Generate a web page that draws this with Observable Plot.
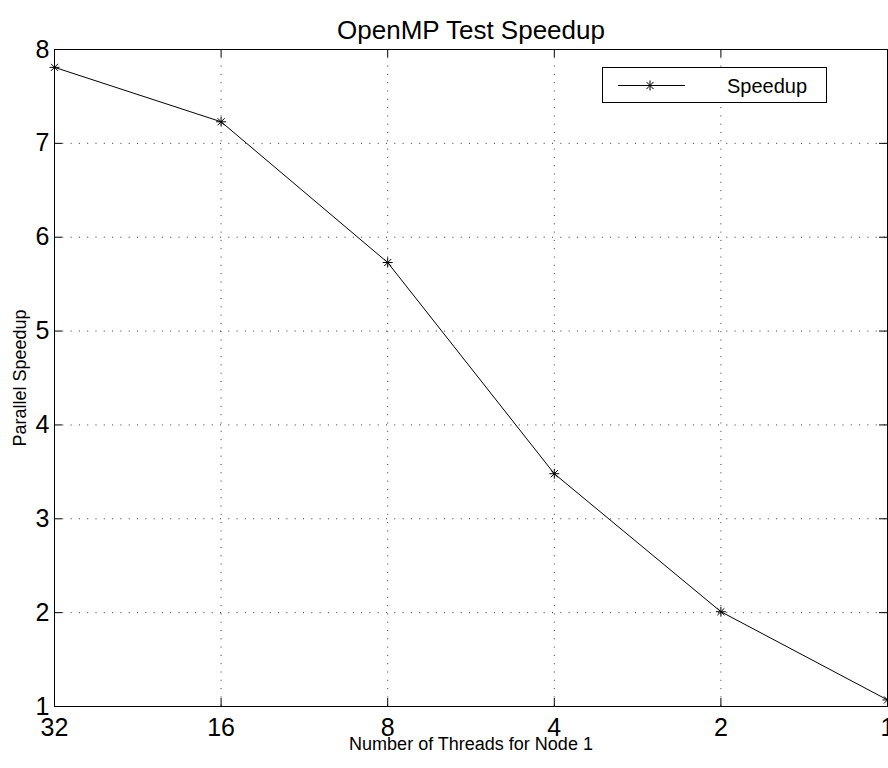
<!DOCTYPE html>
<html><head><meta charset="utf-8">
<script src="https://cdn.jsdelivr.net/npm/d3@7"></script>
<script src="https://cdn.jsdelivr.net/npm/@observablehq/plot@0.6"></script>
<style>
html,body{margin:0;padding:0;background:#fff;}
#wrap{position:relative;width:888px;height:768px;font-family:"Liberation Sans",Arial,Helvetica,sans-serif;overflow:hidden;}
#legend{position:absolute;left:602px;top:67px;}
</style></head><body><div id="wrap"></div>
<script>
const threads = [32, 16, 8, 4, 2, 1];
const speedup = [7.81, 7.23, 5.73, 3.48, 2.01, 1.07];
const xTicks = [32, 16, 8, 4, 2, 1];
const yTicks = [1, 2, 3, 4, 5, 6, 7, 8];
const title = "OpenMP Test Speedup";
const xLabel = "Number of Threads for Node 1";
const yLabel = "Parallel Speedup";
const seriesName = "Speedup";

const data = threads.map((t, i) => ({t, s: speedup[i]}));
const W = 888, H = 768, mL = 54, mR = 1, mT = 49, mB = 62;
const fw = W - mL - mR, fh = H - mT - mB;
const tk = 8;
const font = '"Liberation Sans", Arial, Helvetica, sans-serif';
const grid = {stroke: "#333", strokeOpacity: 1, strokeWidth: 1, strokeDasharray: "1,7.3"};

const chart = Plot.plot({
  width: W, height: H,
  marginLeft: mL, marginRight: mR, marginTop: mT, marginBottom: mB,
  style: {fontFamily: font, background: "white", color: "black"},
  x: {type: "log", base: 2, domain: [32, 1], ticks: xTicks, tickFormat: d => String(d)},
  y: {domain: [1, 8], ticks: yTicks, tickFormat: d => String(d)},
  marks: [
    Plot.gridX(xTicks.slice(1, -1), grid),
    Plot.gridY(yTicks.slice(1, -1), grid),
    Plot.ruleX(xTicks, {x: d => d, insetTop: fh - tk, stroke: "black"}),
    Plot.ruleX(xTicks, {x: d => d, insetBottom: fh - tk, stroke: "black"}),
    Plot.ruleY(yTicks, {y: d => d, insetRight: fw - tk, stroke: "black"}),
    Plot.ruleY(yTicks, {y: d => d, insetLeft: fw - tk, stroke: "black"}),
    Plot.axisX(xTicks, {tickSize: 0, tickPadding: 12, fontSize: 25, label: null, tickFormat: d => String(d)}),
    Plot.axisY(yTicks, {tickSize: 0, tickPadding: 5, fontSize: 25, label: null, tickFormat: d => String(d)}),
    Plot.frame({stroke: "black", strokeWidth: 1}),
    Plot.line(data, {x: "t", y: "s", stroke: "black", strokeWidth: 1}),
    Plot.dot(data, {x: "t", y: "s", symbol: "plus", r: 3.3, stroke: "black", strokeWidth: 1}),
    Plot.dot(data, {x: "t", y: "s", symbol: "times", r: 3.3, stroke: "black", strokeWidth: 1}),
    Plot.text([title], {frameAnchor: "top", dy: -29, fontSize: 26, fill: "black"}),
    Plot.text([xLabel], {frameAnchor: "bottom", dy: 43, fontSize: 18, fill: "black"}),
    Plot.text([yLabel], {frameAnchor: "left", textAnchor: "middle", rotate: -90, dx: -34, fontSize: 18, fill: "black"})
  ]
});
const wrap = document.getElementById("wrap");
wrap.appendChild(chart);

// legend
const lw = 225, lh = 36;
const leg = d3.create("svg").attr("id", "legend").attr("width", lw).attr("height", lh)
  .style("font-family", font);
leg.append("rect").attr("x", 0.5).attr("y", 0.5).attr("width", lw - 1).attr("height", lh - 1)
  .attr("fill", "white").attr("stroke", "black");
leg.append("line").attr("x1", 16).attr("x2", 83).attr("y1", 18.5).attr("y2", 18.5).attr("stroke", "black");
const sz = Math.PI * 3.3 * 3.3;
leg.append("path").attr("d", d3.symbol(d3.symbolPlus, sz)()).attr("transform", "translate(48,18.5)")
  .attr("fill", "none").attr("stroke", "black");
leg.append("path").attr("d", d3.symbol(d3.symbolTimes, sz)()).attr("transform", "translate(48,18.5)")
  .attr("fill", "none").attr("stroke", "black");
leg.append("text").attr("x", 125).attr("y", 18.5).attr("dy", "0.35em").attr("font-size", 20)
  .text(seriesName);
wrap.appendChild(leg.node());
</script></body></html>
